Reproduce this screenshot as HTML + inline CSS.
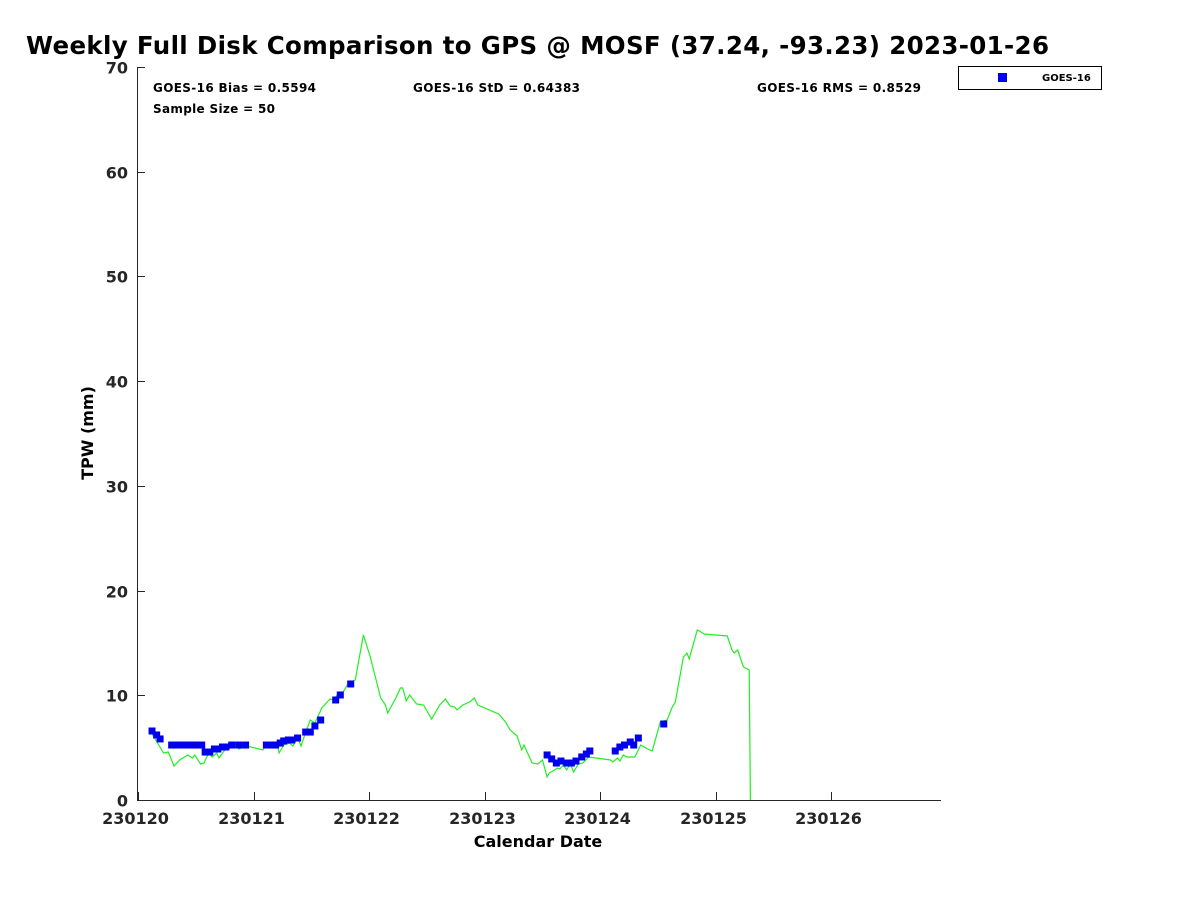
<!DOCTYPE html>
<html><head><meta charset="utf-8"><style>
body{margin:0;background:#fff;font-family:"Liberation Sans","DejaVu Sans",sans-serif}
svg text{font-family:"DejaVu Sans","Liberation Sans",sans-serif;font-weight:bold}
</style></head><body>
<svg id="chart" width="1200" height="900" viewBox="0 0 1200 900" xmlns="http://www.w3.org/2000/svg">
<rect width="1200" height="900" fill="#fff"/>
<text x="26" y="54" font-size="24.5" fill="#000" textLength="1023" lengthAdjust="spacing">Weekly Full Disk Comparison to GPS @ MOSF (37.24, -93.23) 2023-01-26</text>
<text x="153" y="92" font-size="12" textLength="163">GOES-16 Bias = 0.5594</text>
<text x="153" y="113" font-size="12" textLength="122">Sample Size = 50</text>
<text x="413" y="92" font-size="12" textLength="167">GOES-16 StD = 0.64383</text>
<text x="757" y="92" font-size="12" textLength="164">GOES-16 RMS = 0.8529</text>
<g>
<rect x="958.5" y="66.5" width="143" height="23" fill="#fff" stroke="#000" stroke-width="1"/>
<rect x="998" y="73" width="9" height="9" fill="#0000ee"/>
<text x="1042" y="81" font-size="10">GOES-16</text>
</g>
<text transform="translate(93,433) rotate(-90)" text-anchor="middle" font-size="16">TPW (mm)</text>
<text x="538" y="847" text-anchor="middle" font-size="16">Calendar Date</text>
<g id="axes"></g>
<g id="marks"></g>
</svg>
<script>
const xTicks = [0,1,2,3,4,5,6];
const xTickLabels = ["230120","230121","230122","230123","230124","230125","230126"];
const yTicks = [0,10,20,30,40,50,60,70];
const gpsDays = [0.10,0.22,0.26,0.31,0.36,0.43,0.47,0.49,0.54,0.57,0.61,0.64,0.68,0.70,0.75,0.81,0.85,0.87,0.94,1.08,1.12,1.17,1.20,1.22,1.26,1.31,1.34,1.38,1.41,1.45,1.49,1.53,1.59,1.66,1.70,1.73,1.77,1.82,1.88,1.90,1.95,2.01,2.10,2.14,2.16,2.23,2.27,2.29,2.32,2.35,2.41,2.47,2.49,2.54,2.61,2.66,2.70,2.74,2.76,2.81,2.87,2.91,2.94,3.12,3.18,3.22,3.28,3.32,3.34,3.41,3.46,3.50,3.54,3.56,3.63,3.65,3.68,3.71,3.74,3.77,3.81,3.85,3.90,4.09,4.11,4.15,4.17,4.20,4.23,4.30,4.35,4.41,4.45,4.52,4.58,4.62,4.65,4.72,4.75,4.77,4.84,4.87,4.90,5.10,5.14,5.16,5.19,5.21,5.24,5.29,5.30];
const gpsTpw = [6.69,4.49,4.58,3.25,3.82,4.30,4.01,4.30,3.44,3.53,4.49,4.11,4.49,4.01,4.78,5.16,5.44,4.87,5.16,4.78,5.44,5.16,5.44,4.49,5.25,5.44,5.16,5.92,5.16,6.49,7.64,7.35,8.79,9.65,9.55,10.22,10.22,11.17,11.46,12.70,15.76,13.66,9.74,9.07,8.31,9.74,10.70,10.70,9.46,10.03,9.17,9.07,8.69,7.74,9.07,9.65,8.98,8.88,8.60,9.07,9.36,9.74,9.07,8.21,7.45,6.69,6.11,4.78,5.25,3.53,3.44,3.82,2.20,2.58,3.06,2.96,3.34,2.87,3.44,2.67,3.44,3.53,4.11,3.82,3.63,4.01,3.72,4.30,4.11,4.11,5.25,4.87,4.68,7.45,7.64,8.79,9.36,13.66,14.04,13.47,16.24,16.05,15.85,15.66,14.33,14.04,14.33,13.66,12.70,12.42,0];
const goesDays = [0.12,0.16,0.19,0.29,0.33,0.37,0.42,0.46,0.50,0.55,0.58,0.62,0.66,0.69,0.73,0.76,0.81,0.87,0.93,1.11,1.15,1.19,1.23,1.26,1.30,1.33,1.38,1.45,1.49,1.53,1.58,1.71,1.75,1.84,3.54,3.58,3.62,3.66,3.71,3.75,3.79,3.84,3.88,3.91,4.13,4.17,4.21,4.26,4.29,4.33,4.55];
const goesTpw = [6.59,6.21,5.83,5.25,5.25,5.25,5.25,5.25,5.25,5.25,4.58,4.58,4.87,4.87,5.06,5.06,5.25,5.25,5.25,5.25,5.25,5.25,5.44,5.64,5.73,5.73,5.92,6.49,6.49,7.07,7.64,9.55,10.03,11.08,4.30,3.92,3.53,3.72,3.53,3.53,3.72,4.11,4.39,4.68,4.68,5.06,5.25,5.54,5.25,5.92,7.26];

const NS='http://www.w3.org/2000/svg';
const X0=137,X1=941,Y0=800,Y1=67;
const xMin=-0.01,xMax=6.95,yMin=0,yMax=70;
function sx(d){return X0+(d-xMin)/(xMax-xMin)*(X1-X0);}
function sy(v){return Y0-(v-yMin)/(yMax-yMin)*(Y0-Y1);}
function mk(tag,attrs,parent){const e=document.createElementNS(NS,tag);for(const k in attrs)e.setAttribute(k,attrs[k]);parent.appendChild(e);return e;}
const axes=document.getElementById('axes'), marks=document.getElementById('marks');
const frame=mk('path',{d:`M${X0}.5 ${Y1} V${Y0}.5 H${X1}`,fill:'none',stroke:'#262626','stroke-width':1},axes);


xTicks.forEach((t,i)=>{
  const x=Math.round(sx(t))+0.5;
  const l=mk('line',{x1:x,x2:x,y1:Y0,y2:Y0-8,stroke:'#262626'},axes);
  
  
  const tx=mk('text',{x:x-3,y:Y0+24,'text-anchor':'middle','font-size':16,fill:'#262626'},axes);
  tx.textContent=xTickLabels[i];
  
  
});
yTicks.forEach(t=>{
  const y=Math.round(sy(t))+0.5;
  const l=mk('line',{x1:X0,x2:X0+8,y1:y,y2:y,stroke:'#262626'},axes);
  
  
  const tx=mk('text',{x:X0-9,y:y+6,'text-anchor':'end','font-size':16,fill:'#262626'},axes);
  tx.textContent=String(t);
  
  
});
const pts=gpsDays.map((d,i)=>sx(d).toFixed(1)+','+sy(gpsTpw[i]).toFixed(1)).join(' ');
const line=mk('polyline',{points:pts,fill:'none',stroke:'#22ee22','stroke-width':1.2},marks);


goesDays.forEach((d,i)=>{
  const r=mk('rect',{x:sx(d)-3.5,y:sy(goesTpw[i])-3.5,width:7,height:7,fill:'#0000ee'},marks);
  
  
});
</script>
</body></html>
